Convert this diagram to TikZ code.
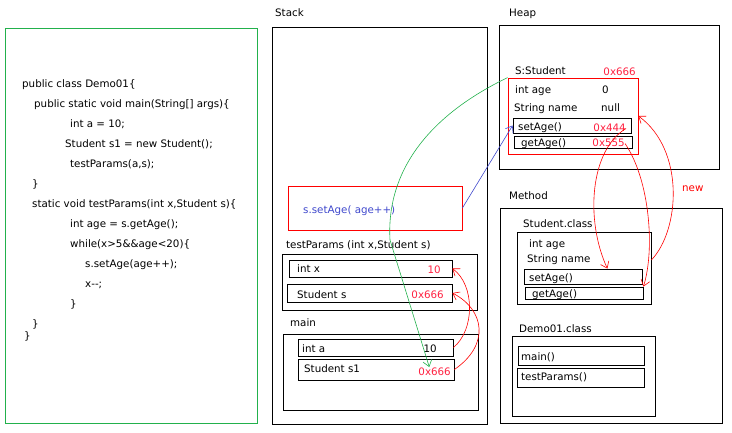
\documentclass[tikz,border=0pt]{standalone}
\usepackage{fontspec}
\setmainfont{DejaVu Sans}
\usetikzlibrary{arrows.meta}
\definecolor{paintgreen}{HTML}{22B14C}
\definecolor{valred}{HTML}{FF2040}
\definecolor{callblue}{HTML}{3F48CC}
\tikzset{
  frame/.style={draw, line width=0.8pt, inner sep=0pt},
  txt/.style={anchor=west, inner sep=0pt, text height=8pt, text depth=2.5pt, yshift=-1.5pt},
  val/.style={txt, anchor=east, text=valred},
  ref/.style={red, line width=0.6pt, -{Straight Barb[length=6pt,width=9pt]}},
}
\begin{document}
\begin{tikzpicture}[x=1pt, y=-1pt, font=\fontsize{10.3}{12}\selectfont]
  \useasboundingbox (0,0) rectangle (732,433);
  % code
  \node[frame, draw=paintgreen, line width=1pt, minimum width=252, minimum height=394] (code) at (131,226) {};
  \node[txt] (c1) at (22,83) {public class Demo01\{};
  \node[txt] (c2) at (34,103) {public static void main(String[] args)\{};
  \node[txt] (c3) at (70,123) {int a = 10;};
  \node[txt] (c4) at (65,143) {Student s1 = new Student();};
  \node[txt] (c5) at (70,163) {testParams(a,s);};
  \node[txt] (c6) at (32,183) {\}};
  \node[txt] (c7) at (32,203) {static void testParams(int x,Student s)\{};
  \node[txt] (c8) at (70,223) {int age = s.getAge();};
  \node[txt] (c9) at (70,243) {while(x>5\&\&age<20)\{};
  \node[txt] (c10) at (85,263) {s.setAge(age++);};
  \node[txt] (c11) at (85,283) {x-{}-;};
  \node[txt] (c12) at (70,303) {\}};
  \node[txt] (c13) at (32,323) {\}};
  \node[txt] (c14) at (24,335) {\}};

  % stack
  \node[txt] (stacklbl) at (275,12) {Stack};
  \node[frame, minimum width=215, minimum height=397] (stack) at (379.5,225.5) {};
  \node[frame, draw=red, minimum width=174, minimum height=44] (call) at (375,208) {};
  \node[txt, text=callblue] (calltxt) at (303,209) {s.setAge( age++)};
  \node[txt] (tplbl) at (286,244) {testParams (int x,Student s)};
  \node[frame, minimum width=195, minimum height=56] (tp) at (379.5,282) {};
  \node[frame, minimum width=163, minimum height=17] (intx) at (370.5,268.5) {};
  \node[txt] (intxtxt) at (297,268) {int x};
  \node[val] (vx) at (441,269) {10};
  \node[frame, minimum width=165, minimum height=18] (studs) at (369.5,293) {};
  \node[txt] (studstxt) at (297,294) {Student s};
  \node[val] (vs) at (444,294) {0x666};
  \node[txt] (mainlbl) at (290,322) {main};
  \node[frame, minimum width=195, minimum height=76] (mainfr) at (380.5,372) {};
  \node[frame, minimum width=155, minimum height=17] (inta) at (375.5,347.5) {};
  \node[txt] (intatxt) at (302,348) {int a};
  \node[txt, anchor=east] (va) at (437,348) {10};
  \node[frame, minimum width=156, minimum height=21] (s1) at (376,369.5) {};
  \node[txt] (s1txt) at (304,368) {Student s1};
  \node[val] (v1) at (451,371) {0x666};

  % heap
  \node[txt] (heaplbl) at (509,12) {Heap};
  \node[frame, minimum width=220, minimum height=144] (heap) at (609,97) {};
  \node[txt] (objlbl) at (515,70) {S:Student};
  \node[val] (vobj) at (636,71) {0x666};
  \node[frame, draw=red, minimum width=130, minimum height=76] (obj) at (573,116) {};
  \node[txt] (agetxt) at (515,89) {int age};
  \node[txt] (agev) at (602,89) {0};
  \node[txt] (nametxt) at (514,107) {String name};
  \node[txt] (namev) at (601,107) {null};
  \node[frame, minimum width=118, minimum height=15] (hset) at (572,125.5) {};
  \node[txt] (hsettxt) at (518,126) {setAge()};
  \node[val] (v444) at (626,127) {0x444};
  \node[frame, minimum width=118, minimum height=12] (hget) at (573,142) {};
  \node[txt] (hgettxt) at (521,142) {getAge()};
  \node[val] (v555) at (625,142) {0x555};

  % method area
  \node[txt] (methlbl) at (509,195) {Method};
  \node[frame, minimum width=222, minimum height=215] (meth) at (611,315.5) {};
  \node[txt] (sclslbl) at (523,223) {Student.class};
  \node[frame, minimum width=134, minimum height=72] (studcls) at (584,268) {};
  \node[txt] (mage) at (529,243) {int age};
  \node[txt] (mname) at (527,258) {String name};
  \node[frame, minimum width=118, minimum height=15] (mset) at (583,276.5) {};
  \node[txt] (msettxt) at (529,277) {setAge()};
  \node[frame, minimum width=118, minimum height=12] (mget) at (584,293) {};
  \node[txt] (mgettxt) at (532,293) {getAge()};
  \node[txt] (dclslbl) at (519,328) {Demo01.class};
  \node[frame, minimum width=143, minimum height=80] (democls) at (583.5,376) {};
  \node[frame, minimum width=126, minimum height=19] (mmain) at (581,355.5) {};
  \node[txt] (mmaintxt) at (521,356) {main()};
  \node[frame, minimum width=127, minimum height=19] (mtp) at (580.5,377.5) {};
  \node[txt] (mtptxt) at (521,376) {testParams()};

  % references
  \draw[ref, paintgreen] (obj.north west) .. controls (430,115) and (386,170) .. (390,240)
    -- ([xshift=11pt]v1.north west);
  \draw[ref, callblue] (call.east) -- (hset.west);
  \draw[ref] (inta.east) .. controls (475,330) and (475,285) .. (intx.east);
  \draw[ref] (s1.east) .. controls (490,345) and (485,310) .. (studs.east);
  \draw[ref] (v444.east) .. controls (590,150) and (585,220) .. ([xshift=-35pt]mset.north east);
  \draw[ref] (v555.east) .. controls (650,180) and (655,250) .. (mget.north east);
  \draw[ref] ([yshift=8pt]studcls.east) .. controls (680,230) and (685,150) .. (obj.east);
  \node[txt, text=red] (newlbl) at (682,187) {new};
\end{tikzpicture}
\end{document}
